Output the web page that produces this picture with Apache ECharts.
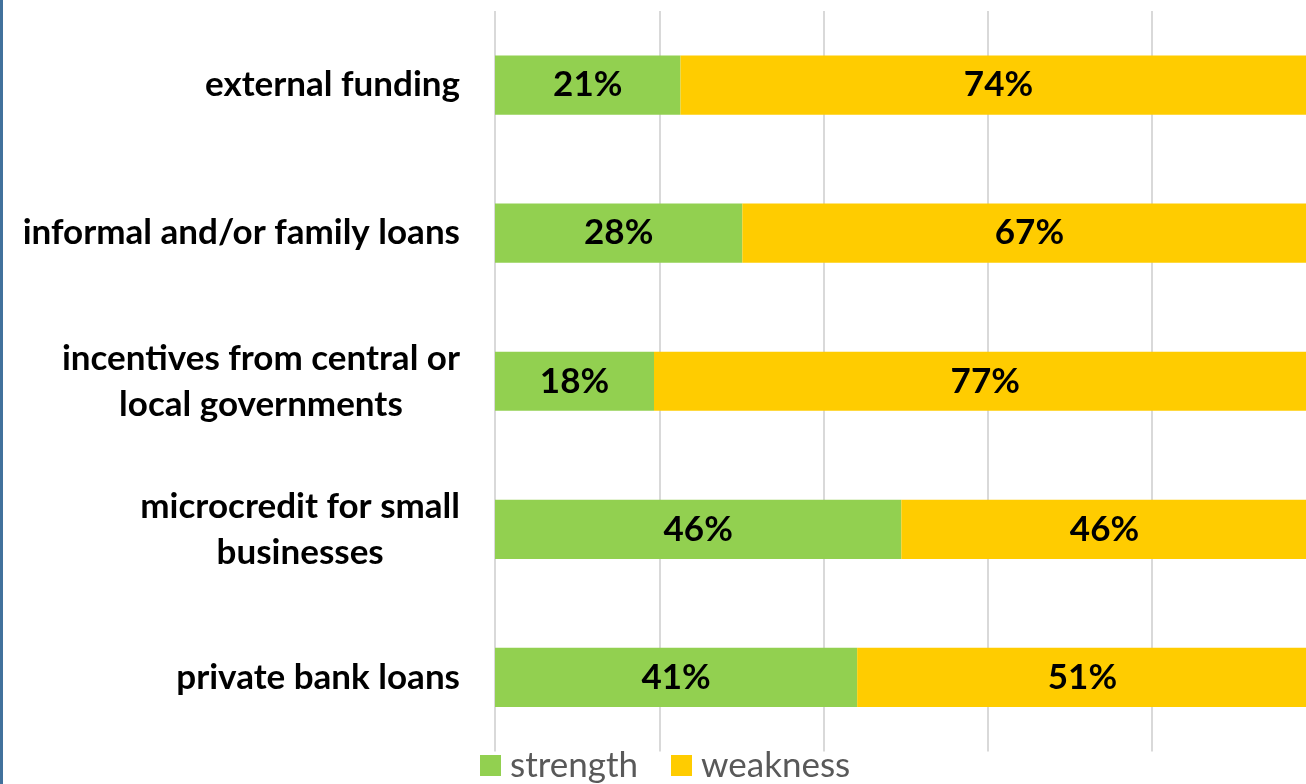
<!DOCTYPE html>
<html>
<head>
<meta charset="utf-8">
<title>Funding sources: strength vs weakness</title>
<script src="https://cdn.jsdelivr.net/npm/echarts@6/dist/echarts.min.js"></script>
<style>
  html, body { margin: 0; padding: 0; background: #ffffff; overflow: hidden; }
  #chart { width: 1306px; height: 784px; }
</style>
</head>
<body>
<div id="chart"></div>
<script>
// Funding sources, listed top to bottom
const categories = [
  'external funding',
  'informal and/or family loans',
  'incentives from central or\nlocal governments',
  'microcredit for small\nbusinesses',
  'private bank loans'
];
const seriesNames = ['strength', 'weakness'];
// Share of answers (%) per funding source
const strength = [21, 28, 18, 46, 41];
const weakness = [74, 67, 77, 46, 51];

const FONT = 'Lato, "Open Sans", sans-serif';
const GREEN = '#92D050';
const YELLOW = '#FFCC00';
const TEXT_SIZE = 35;

const chart = echarts.init(document.getElementById('chart'), null, { renderer: 'canvas' });

const valueLabel = {
  show: true,
  position: 'inside',
  formatter: '{c}%',
  fontFamily: FONT,
  fontWeight: 'bold',
  fontSize: TEXT_SIZE,
  color: '#000000',
  textBorderWidth: 0
};

chart.setOption({
  animation: false,
  backgroundColor: '#ffffff',
  graphic: [{
    type: 'rect',
    left: 0,
    top: 0,
    shape: { width: 3, height: 784 },
    style: { fill: '#41719C' }
  }],
  legend: {
    data: seriesNames,
    left: 475,
    top: 743,
    icon: 'rect',
    itemWidth: 21,
    itemHeight: 21,
    itemGap: 33,
    selectedMode: false,
    textStyle: {
      fontFamily: FONT,
      fontSize: TEXT_SIZE,
      lineHeight: 21,
      color: '#595959',
      padding: [0, 0, 0, 4]
    }
  },
  grid: {
    left: 495,
    top: 11,
    width: 821.5,
    height: 740.5,
    containLabel: false,
    outerBoundsMode: 'none'
  },
  xAxis: {
    type: 'value',
    min: 0,
    max: 93,
    interval: 18.6,
    axisLabel: { show: false },
    axisLine: { show: false },
    axisTick: { show: false },
    splitLine: { show: true, lineStyle: { color: '#d9d9d9', width: 2 } }
  },
  yAxis: {
    type: 'category',
    inverse: true,
    data: categories,
    axisLine: { show: false },
    axisTick: { show: false },
    splitLine: { show: false },
    axisLabel: {
      margin: 35,
      align: 'right',
      formatter: function (v) {
        return v.split('\n').map(function (s) { return '{c|' + s + '}'; }).join('\n');
      },
      rich: {
        c: {
          align: 'center',
          fontFamily: FONT,
          fontWeight: 'bold',
          fontSize: TEXT_SIZE,
          lineHeight: 46,
          color: '#000000'
        }
      }
    }
  },
  series: [
    {
      name: seriesNames[0],
      type: 'bar',
      stack: 'total',
      barWidth: '40%',
      data: strength,
      itemStyle: { color: GREEN },
      label: valueLabel
    },
    {
      name: seriesNames[1],
      type: 'bar',
      stack: 'total',
      barWidth: '40%',
      data: weakness,
      itemStyle: { color: YELLOW },
      label: valueLabel
    }
  ]
});
</script>
</body>
</html>
